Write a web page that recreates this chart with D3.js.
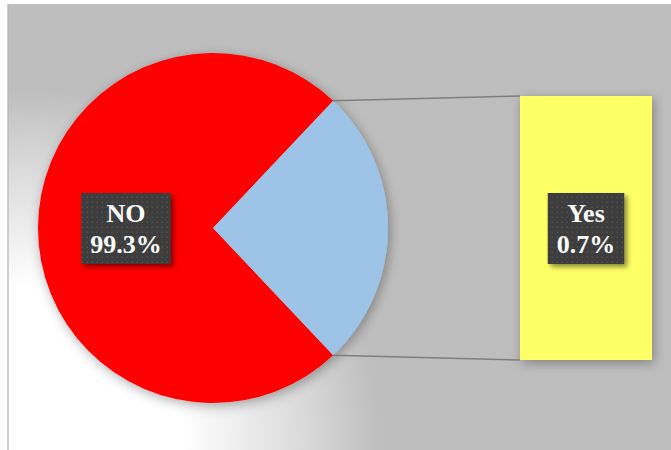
<!DOCTYPE html>
<html>
<head>
<meta charset="utf-8">
<script src="https://cdn.jsdelivr.net/npm/d3@7"></script>
<style>
  html, body { margin: 0; padding: 0; background: #ffffff; }
  svg { display: block; }
</style>
</head>
<body>
<svg id="chart" width="671" height="450"></svg>
<script>
// Categories and their values
const categories = ["NO", "Yes"];
const percentLabels = ["99.3%", "0.7%"];
// share of the main pie taken by each slice (the "Yes" slice is the expanded group)
const sliceShare = [74.1, 25.9];
// the secondary bar holds the "Yes" group only
const barValues = [0.7];

const colors = { NO: "#ff0000", Yes: "#9dc3e6", bar: "#ffff66" };

const W = 671, H = 450;
const svg = d3.select("#chart");
const defs = svg.append("defs");

// background glow: light corner at the lower left fading to grey
const bg = defs.append("radialGradient")
  .attr("id", "bgGlow").attr("gradientUnits", "userSpaceOnUse")
  .attr("cx", 30).attr("cy", 440).attr("r", 380);
bg.append("stop").attr("offset", "0").attr("stop-color", "#ffffff");
bg.append("stop").attr("offset", "0.40").attr("stop-color", "#ffffff");
bg.append("stop").attr("offset", "0.72").attr("stop-color", "#dadada");
bg.append("stop").attr("offset", "0.92").attr("stop-color", "#bebebe");
bg.append("stop").attr("offset", "1").attr("stop-color", "#bebebe");

// soft outer shadow for the pie and bar
const sh = defs.append("filter").attr("id", "softShadow")
  .attr("x", "-30%").attr("y", "-30%").attr("width", "160%").attr("height", "160%");
sh.append("feDropShadow").attr("dx", 2).attr("dy", 3).attr("stdDeviation", 6)
  .attr("flood-color", "#000").attr("flood-opacity", 0.32);

// drop shadow for data label boxes
const ls = defs.append("filter").attr("id", "labelShadow")
  .attr("x", "-20%").attr("y", "-20%").attr("width", "150%").attr("height", "150%");
ls.append("feDropShadow").attr("dx", 3).attr("dy", 3).attr("stdDeviation", 2.5)
  .attr("flood-color", "#000").attr("flood-opacity", 0.45);

// dotted texture of the label boxes
const pat = defs.append("pattern").attr("id", "dots")
  .attr("width", 5).attr("height", 5).attr("patternUnits", "userSpaceOnUse");
pat.append("rect").attr("width", 5).attr("height", 5).attr("fill", "#3d3d3d");
pat.append("rect").attr("x", 1.5).attr("y", 1.5).attr("width", 1.5).attr("height", 1.5).attr("fill", "#515151");

// chart area
svg.append("rect").attr("x", 8).attr("y", 4).attr("width", W - 8).attr("height", H - 4)
  .attr("fill", "url(#bgGlow)");
svg.append("line").attr("x1", 8).attr("y1", 4).attr("x2", 8).attr("y2", H)
  .attr("stroke", "#b4b4b4").attr("stroke-width", 1.2);

// ---- main pie ----
const cx = 213, cy = 228, R = 175;
const yesShare = sliceShare[1] / d3.sum(sliceShare);
// rotate so the expanded slice faces the bar
const start = Math.PI / 2 + yesShare * Math.PI;
const pie = d3.pie().sort(null).value(d => d.v)
  .startAngle(start).endAngle(start + 2 * Math.PI);
const arcs = pie(categories.map((c, i) => ({ c, v: sliceShare[i] })));
const arc = d3.arc().innerRadius(0).outerRadius(R);

const pieG = svg.append("g").attr("transform", `translate(${cx},${cy})`)
  .attr("filter", "url(#softShadow)");
pieG.selectAll("path").data(arcs).join("path")
  .attr("d", arc).attr("fill", d => colors[d.data.c]);

// ---- secondary bar ----
const x = d3.scaleBand().domain(["Yes"]).range([520, 652]).padding(0);
const y = d3.scaleLinear().domain([0, d3.sum(barValues)]).range([360, 96]);
const barG = svg.append("g").attr("filter", "url(#softShadow)");
barG.selectAll("rect").data(barValues).join("rect")
  .attr("x", x("Yes")).attr("width", x.bandwidth())
  .attr("y", d => y(d)).attr("height", d => y(0) - y(d))
  .attr("fill", colors.bar);

// ---- connector lines from the expanded slice to the bar ----
const yesArc = arcs[1];
const pt = a => [cx + R * Math.sin(a), cy - R * Math.cos(a)];
const pTop = pt(yesArc.startAngle), pBot = pt(yesArc.endAngle);
const barTop = y(d3.sum(barValues)), barBot = y(0);
svg.append("line").attr("x1", pTop[0]).attr("y1", pTop[1])
  .attr("x2", x("Yes")).attr("y2", barTop)
  .attr("stroke", "#7f7f7f").attr("stroke-width", 1.6);
svg.append("line").attr("x1", pBot[0]).attr("y1", pBot[1])
  .attr("x2", x("Yes")).attr("y2", barBot)
  .attr("stroke", "#7f7f7f").attr("stroke-width", 1.6);

// ---- data labels ----
const labels = [
  { lines: [categories[0], percentLabels[0]], cx: 126, cy: 228 },
  { lines: [categories[1], percentLabels[1]], cx: x("Yes") + x.bandwidth() / 2, cy: 228 }
];
labels.forEach(l => {
  const g = svg.append("g");
  const box = g.append("rect").attr("fill", "url(#dots)").attr("filter", "url(#labelShadow)");
  const t = g.append("text")
    .attr("font-family", "'Liberation Serif', 'Times New Roman', serif")
    .attr("font-weight", "bold").attr("font-size", 26)
    .attr("fill", "#ffffff").attr("text-anchor", "middle");
  l.lines.forEach((s, i) => {
    t.append("tspan").attr("x", l.cx).attr("y", l.cy - 6 + i * 31).text(s);
  });
  const bb = t.node().getBBox();
  const w = bb.width + 18, h = 71;
  box.attr("x", l.cx - w / 2).attr("y", l.cy - 35).attr("width", w).attr("height", h);
});
</script>
</body>
</html>
